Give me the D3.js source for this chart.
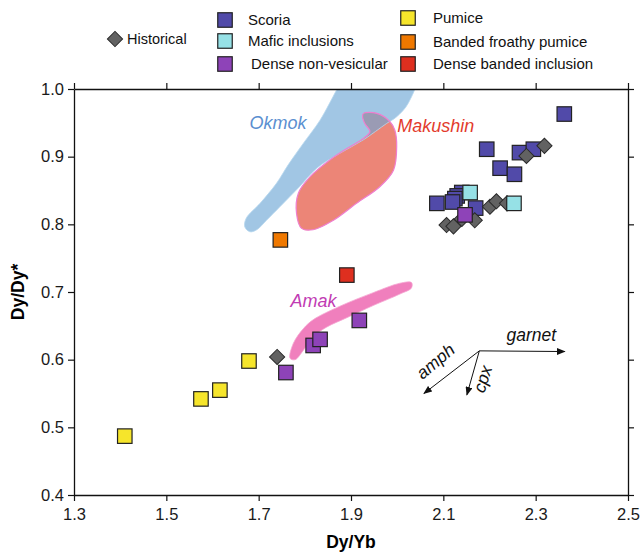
<!DOCTYPE html>
<html>
<head>
<meta charset="utf-8">
<script src="https://cdn.jsdelivr.net/npm/d3@7"></script>
<style>
  body { margin: 0; background: #fff; }
  svg { font-family: "Liberation Sans", Arial, sans-serif; }
</style>
</head>
<body>
<svg width="641" height="553"></svg>
<script>
// Sample groups, [Dy/Yb, Dy/Dy*].
const scoria = [
  [2.362, 0.963], [2.194, 0.911], [2.265, 0.906], [2.295, 0.911],
  [2.223, 0.883], [2.254, 0.874], [2.086, 0.831], [2.140, 0.847],
  [2.130, 0.842], [2.125, 0.838], [2.120, 0.833], [2.170, 0.824],
];
const historical = [
  [1.740, 0.604], [2.107, 0.799], [2.122, 0.797], [2.140, 0.808],
  [2.168, 0.806], [2.201, 0.826], [2.215, 0.834], [2.238, 0.831],
  [2.280, 0.901], [2.319, 0.916],
];
const maficInclusions = [[2.158, 0.847], [2.253, 0.831]];
const denseNonVesicular = [
  [2.147, 0.814], [1.759, 0.581], [1.818, 0.621], [1.833, 0.630],
  [1.918, 0.658],
];
const pumice = [[1.410, 0.487], [1.575, 0.542], [1.616, 0.555], [1.679, 0.598]];
const bandedFroathyPumice = [[1.747, 0.777]];
const denseBandedInclusion = [[1.891, 0.725]];

// Outlines of the fields for other volcanoes.
const okmokField = [
  [1.887, 1.02], [2.040, 1.02], [2.024, 0.979], [1.999, 0.959],
  [1.977, 0.949], [1.927, 0.925], [1.876, 0.905], [1.826, 0.883],
  [1.789, 0.856], [1.746, 0.826], [1.717, 0.806], [1.696, 0.792],
  [1.681, 0.789], [1.670, 0.796], [1.673, 0.809], [1.703, 0.831],
  [1.739, 0.861], [1.764, 0.888], [1.797, 0.920], [1.833, 0.954],
  [1.870, 1.00],
];
const makushinField = [
  [1.927, 0.964], [1.956, 0.964], [1.984, 0.952], [1.995, 0.939],
  [1.999, 0.915], [1.992, 0.880], [1.963, 0.856], [1.912, 0.831],
  [1.862, 0.806], [1.818, 0.792], [1.793, 0.794], [1.782, 0.816],
  [1.786, 0.846], [1.811, 0.870], [1.854, 0.895], [1.891, 0.912],
  [1.927, 0.927], [1.941, 0.937], [1.930, 0.949], [1.925, 0.959],
];
const amakField = [
  [1.768, 0.602], [1.775, 0.624], [1.797, 0.646], [1.818, 0.659],
  [1.876, 0.679], [1.948, 0.699], [2.006, 0.713], [2.031, 0.714],
  [2.031, 0.706], [2.006, 0.697], [1.948, 0.680], [1.891, 0.662],
  [1.847, 0.648], [1.818, 0.634], [1.797, 0.614], [1.779, 0.600],
];

// Mineral fractionation vectors (start and end in data units).
const vectorOrigin = [2.178, 0.613];
const vectors = [
  {name: 'garnet', end: [2.363, 0.612]},
  {name: 'amph', end: [2.058, 0.550]},
  {name: 'cpx', end: [2.151, 0.548]},
];

const xTicks = [1.3, 1.5, 1.7, 1.9, 2.1, 2.3, 2.5];
const yTicks = [0.4, 0.5, 0.6, 0.7, 0.8, 0.9, 1.0];

const svg = d3.select('svg');
const margin = {left: 74, right: 13, top: 89, bottom: 58};
const width = 641 - margin.left - margin.right;
const height = 553 - margin.top - margin.bottom;

const x = d3.scaleLinear().domain([1.3, 2.5]).range([0, width]);
const y = d3.scaleLinear().domain([0.4, 1.0]).range([height, 0]);

const plot = svg.append('g')
    .attr('transform', `translate(${margin.left},${margin.top})`);

svg.append('defs').append('clipPath')
    .attr('id', 'plot-clip')
    .append('rect')
    .attr('width', width)
    .attr('height', height);

const area = d3.line()
    .x(d => x(d[0]))
    .y(d => y(d[1]))
    .curve(d3.curveCatmullRomClosed.alpha(0.5));

const fields = plot.append('g').attr('clip-path', 'url(#plot-clip)');
fields.append('path')
    .attr('d', area(makushinField))
    .attr('fill', '#ec8577');
fields.append('path')
    .attr('d', area(okmokField))
    .attr('fill', '#6fa8d6')
    .attr('fill-opacity', 0.65)
    .attr('stroke', '#b8d8ef')
    .attr('stroke-width', 0.8);
fields.append('path')
    .attr('d', area(makushinField))
    .attr('fill', 'none')
    .attr('stroke', '#ef7fcf')
    .attr('stroke-width', 1.2);
fields.append('path')
    .attr('d', area(amakField))
    .attr('fill', '#f07fbd')
    .attr('stroke', '#f5a6d2')
    .attr('stroke-width', 0.8);

const fieldLabels = [
  {text: 'Okmok', pos: [1.680, 0.941], color: '#5b8fd0'},
  {text: 'Makushin', pos: [2.000, 0.937], color: '#e33b2d'},
  {text: 'Amak', pos: [1.769, 0.678], color: '#c13bb3'},
];
plot.append('g').selectAll('text')
    .data(fieldLabels)
    .join('text')
    .attr('x', d => x(d.pos[0]))
    .attr('y', d => y(d.pos[1]))
    .attr('fill', d => d.color)
    .attr('font-size', 18)
    .attr('font-style', 'italic')
    .text(d => d.text);

// Frame with outward ticks on all four sides.
const tickLen = 6;
plot.append('g')
    .attr('transform', `translate(0,${height})`)
    .call(d3.axisBottom(x).tickValues(xTicks).tickFormat(d3.format('.1f'))
        .tickSize(tickLen).tickSizeOuter(0).tickPadding(7));
plot.append('g')
    .call(d3.axisTop(x).tickValues(xTicks).tickFormat('')
        .tickSize(tickLen).tickSizeOuter(0));
plot.append('g')
    .call(d3.axisLeft(y).tickValues(yTicks).tickFormat(d3.format('.1f'))
        .tickSize(tickLen).tickSizeOuter(0).tickPadding(4));
plot.append('g')
    .attr('transform', `translate(${width},0)`)
    .call(d3.axisRight(y).tickValues(yTicks).tickFormat('')
        .tickSize(tickLen).tickSizeOuter(0));
plot.selectAll('.domain').attr('stroke', '#111').attr('stroke-width', 1.3);
plot.selectAll('.tick line').attr('stroke', '#111').attr('stroke-width', 1.2);
plot.selectAll('.tick text')
    .attr('font-size', 16.5)
    .attr('fill', '#1a1a1a')
    .attr('font-family', '"Liberation Sans", Arial, sans-serif');

svg.append('text')
    .attr('x', margin.left + width / 2)
    .attr('y', 548)
    .attr('text-anchor', 'middle')
    .attr('font-size', 17.5)
    .attr('font-weight', 'bold')
    .text('Dy/Yb');
svg.append('text')
    .attr('transform', `translate(24,${margin.top + height / 2}) rotate(-90)`)
    .attr('text-anchor', 'middle')
    .attr('font-size', 17.5)
    .attr('font-weight', 'bold')
    .text('Dy/Dy*');

// Vectors.
const arrowDefs = svg.select('defs');
arrowDefs.append('marker')
    .attr('id', 'arrowhead')
    .attr('viewBox', '0 -4 10 8')
    .attr('refX', 9)
    .attr('refY', 0)
    .attr('orient', 'auto')
    .attr('markerUnits', 'userSpaceOnUse')
    .attr('markerWidth', 9)
    .attr('markerHeight', 7)
    .append('path')
    .attr('d', 'M0,-4L10,0L0,4Z')
    .attr('fill', '#111');
plot.append('g').selectAll('line')
    .data(vectors)
    .join('line')
    .attr('x1', x(vectorOrigin[0]))
    .attr('y1', y(vectorOrigin[1]))
    .attr('x2', d => x(d.end[0]))
    .attr('y2', d => y(d.end[1]))
    .attr('stroke', '#111')
    .attr('stroke-width', 1)
    .attr('marker-end', 'url(#arrowhead)');

const ox = x(vectorOrigin[0]);
const oy = y(vectorOrigin[1]);
const vectorLabels = [
  {text: 'garnet', dx: 52, dy: -10, rot: 0},
  {text: 'amph', dx: -40, dy: 15, rot: -40},
  {text: 'cpx', dx: 9, dy: 30, rot: -72},
];
plot.append('g').selectAll('text')
    .data(vectorLabels)
    .join('text')
    .attr('transform', d => `translate(${ox + d.dx},${oy + d.dy}) rotate(${d.rot})`)
    .attr('text-anchor', 'middle')
    .attr('font-size', 17.5)
    .attr('font-style', 'italic')
    .attr('fill', '#111')
    .text(d => d.text);

// Samples.
const sq = 14.5;
function drawSquares(data, color) {
  plot.append('g').selectAll('rect')
      .data(data)
      .join('rect')
      .attr('x', d => x(d[0]) - sq / 2)
      .attr('y', d => y(d[1]) - sq / 2)
      .attr('width', sq)
      .attr('height', sq)
      .attr('fill', color)
      .attr('stroke', '#222')
      .attr('stroke-width', 1.2);
}
function drawDiamonds(data) {
  plot.append('g').selectAll('path')
      .data(data)
      .join('path')
      .attr('d', d3.symbol(d3.symbolSquare, 115)())
      .attr('transform', d => `translate(${x(d[0])},${y(d[1])}) rotate(45)`)
      .attr('fill', '#626262')
      .attr('stroke', '#2a2a2a')
      .attr('stroke-width', 1);
}

drawSquares(scoria, '#514aa9');
drawDiamonds(historical);
drawSquares(maficInclusions, '#96e1e6');
drawSquares(denseNonVesicular, '#8e43b8');
drawSquares(pumice, '#f6e52b');
drawSquares(bandedFroathyPumice, '#ef7800');
drawSquares(denseBandedInclusion, '#de2f1f');

// Legend.
const legendSquares = [
  {label: 'Scoria', color: '#514aa9', sx: 225, sy: 20, tx: 248},
  {label: 'Mafic inclusions', color: '#96e1e6', sx: 225, sy: 41, tx: 248},
  {label: 'Dense non-vesicular', color: '#8e43b8', sx: 225, sy: 64, tx: 251},
  {label: 'Pumice', color: '#f6e52b', sx: 408, sy: 18, tx: 433},
  {label: 'Banded froathy pumice', color: '#ef7800', sx: 408, sy: 42, tx: 433},
  {label: 'Dense banded inclusion', color: '#de2f1f', sx: 408, sy: 64, tx: 433},
];
const legend = svg.append('g');
legend.selectAll('rect')
    .data(legendSquares)
    .join('rect')
    .attr('x', d => d.sx - sq / 2)
    .attr('y', d => d.sy - sq / 2)
    .attr('width', sq)
    .attr('height', sq)
    .attr('fill', d => d.color)
    .attr('stroke', '#222')
    .attr('stroke-width', 1.2);
legend.selectAll('text')
    .data(legendSquares)
    .join('text')
    .attr('x', d => d.tx)
    .attr('y', d => d.sy + 5)
    .attr('font-size', 15)
    .attr('fill', '#111')
    .text(d => d.label);
legend.append('path')
    .attr('d', d3.symbol(d3.symbolSquare, 115)())
    .attr('transform', 'translate(115,39) rotate(45)')
    .attr('fill', '#626262')
    .attr('stroke', '#2a2a2a');
legend.append('text')
    .attr('x', 127)
    .attr('y', 44)
    .attr('font-size', 14.5)
    .attr('fill', '#111')
    .text('Historical');
</script>
</body>
</html>
